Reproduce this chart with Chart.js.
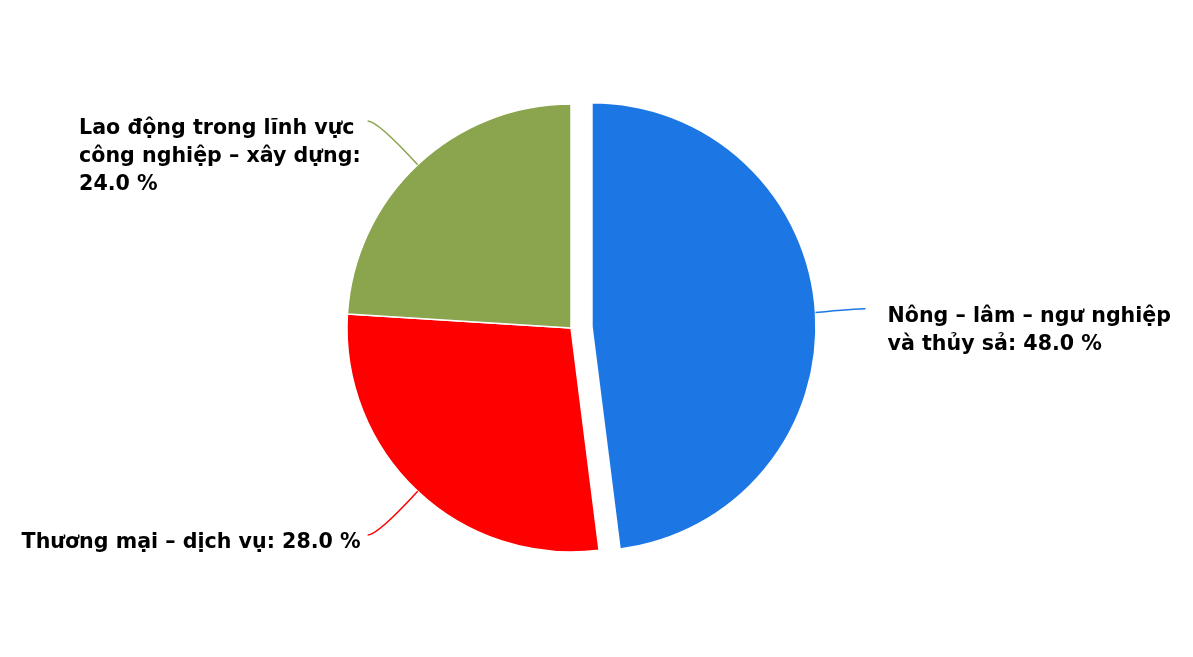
<!DOCTYPE html>
<html>
<head>
<meta charset="utf-8">
<script src="https://cdn.jsdelivr.net/npm/chart.js@4"></script>
<style>
  html, body { margin: 0; padding: 0; background: #ffffff; }
  #wrap { width: 1193px; height: 657px; position: relative; }
</style>
</head>
<body>
<div id="wrap"><canvas id="c" width="1193" height="657"></canvas></div>
<script>
// Data
const categories = [
  ["Nông – lâm – ngư nghiệp", "và thủy sả"],
  ["Thương mại – dịch vụ"],
  ["Lao động trong lĩnh vực", "công nghiệp – xây dựng"]
];
const values = [48.0, 28.0, 24.0];
const colors = ["#1c77e5", "#ff0000", "#8ba54e"];
const explode = [21, 0, 0];

const FONT = "bold 20.6px 'DejaVu Sans'";
const LINE_H = 28;
const WRAP_LIMIT = 347;

// Draw arcs with a pure translation for exploded slices (no radius growth)
const explodePlugin = {
  id: 'explodeArcs',
  beforeDatasetDraw(chart, args) {
    const ctx = chart.ctx;
    const meta = args.meta;
    meta.data.forEach((arc, i) => {
      const p = arc.getProps(['startAngle', 'endAngle'], true);
      const mid = (p.startAngle + p.endAngle) / 2;
      const d = explode[i] || 0;
      ctx.save();
      ctx.translate(Math.cos(mid) * d, Math.sin(mid) * d);
      arc.draw(ctx, chart.chartArea);
      ctx.restore();
    });
    return false;
  }
};

const labelPlugin = {
  id: 'outLabels',
  afterDatasetsDraw(chart) {
    const ctx = chart.ctx;
    const meta = chart.getDatasetMeta(0);
    ctx.save();
    ctx.font = FONT;
    meta.data.forEach((arc, i) => {
      const p = arc.getProps(['x', 'y', 'startAngle', 'endAngle', 'outerRadius'], true);
      const mid = (p.startAngle + p.endAngle) / 2;
      const off = explode[i] || 0;
      const cx = p.x + Math.cos(mid) * off;
      const cy = p.y + Math.sin(mid) * off;
      const r = p.outerRadius;
      const ex = cx + Math.cos(mid) * r;
      const ey = cy + Math.sin(mid) * r;
      const side = Math.cos(mid) >= 0 ? 1 : -1;
      const endX = ex + side * 50;
      const endY = cy + Math.sin(mid) * (r + 60);

      ctx.strokeStyle = colors[i];
      ctx.lineWidth = 1.5;
      ctx.beginPath();
      ctx.moveTo(ex, ey);
      ctx.quadraticCurveTo(endX - side * 10, endY, endX, endY);
      ctx.stroke();

      const lines = categories[i].slice(0, -1);
      const last = categories[i][categories[i].length - 1] + ':';
      const valTxt = values[i].toFixed(1) + ' %';
      if (ctx.measureText(last + ' ' + valTxt).width > WRAP_LIMIT) {
        lines.push(last, valTxt);
      } else {
        lines.push(last + ' ' + valTxt);
      }
      const maxW = Math.max(...lines.map(l => ctx.measureText(l).width));
      const x0 = side > 0 ? endX + 22 : endX - 7 - maxW;
      ctx.fillStyle = '#000000';
      ctx.textAlign = 'left';
      ctx.textBaseline = 'middle';
      lines.forEach((l, k) => {
        ctx.fillText(l, x0, endY + 7.5 + k * LINE_H);
      });
    });
    ctx.restore();
  }
};

new Chart(document.getElementById('c'), {
  type: 'pie',
  data: {
    labels: categories.map(c => c.join(' ')),
    datasets: [{
      data: values,
      backgroundColor: colors,
      borderColor: '#ffffff',
      borderWidth: 1.5,
      offset: 0
    }]
  },
  options: {
    responsive: false,
    animation: false,
    events: [],
    radius: 224,
    layout: { padding: { left: 100, right: 151, top: 50, bottom: 51 } },
    plugins: {
      legend: { display: false },
      tooltip: { enabled: false },
      title: { display: false }
    }
  },
  plugins: [explodePlugin, labelPlugin]
});
</script>
</body>
</html>
